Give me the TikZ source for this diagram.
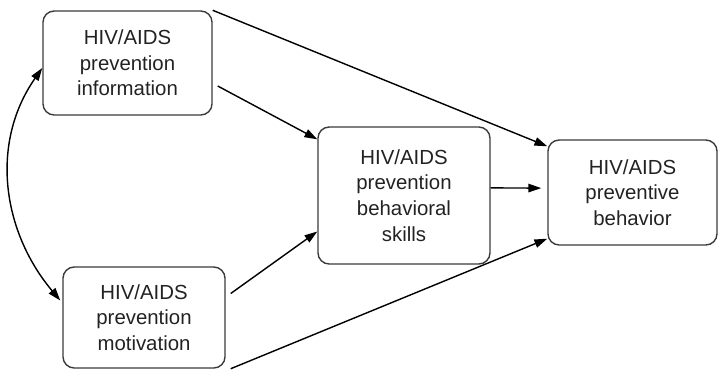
\documentclass[tikz,border=0pt]{standalone}
\usepackage{fontspec}
\setmainfont{Liberation Sans}
\usetikzlibrary{arrows.meta,positioning}
\definecolor{boxline}{HTML}{3A3A3A}
\definecolor{boxtext}{HTML}{222222}

\begin{document}
\begin{tikzpicture}[
  x=0.025cm, y=-0.025cm,
  every node/.style={draw=boxline, line width=1pt, rounded corners=8pt, align=center, inner sep=0pt, text=boxtext, font=\fontsize{14.5}{18.2}\selectfont},
  arr/.style={-{Triangle[length=3.2mm, width=2.1mm]}, line width=1pt},
  biarr/.style={{Triangle[length=3.2mm, width=2.1mm]}-{Triangle[length=3.2mm, width=2.1mm]}, line width=1pt},
]
  \useasboundingbox (0,0) rectangle (719,370);

  % Left column: information + motivation
  \node[minimum width=4.225cm, minimum height=2.6cm] (info) at (127.5,63) {HIV/AIDS\\prevention\\information};
  \node[minimum width=4.05cm, minimum height=2.525cm] (motiv) at (144,317.5) {HIV/AIDS\\prevention\\motivation};

  % Middle + right: skills + behavior
  \node[minimum width=4.3cm, minimum height=3.425cm] (skills) at (404,195.5) {HIV/AIDS\\prevention\\behavioral\\skills};
  \node[minimum width=4.225cm, minimum height=2.625cm] (behav) at (632.5,192.5) {HIV/AIDS\\preventive\\behavior};

  % Edges
  \draw[arr] (info.north east) -- ([yshift=-0.175cm]behav.north west);
  \draw[arr] ([xshift=0.125cm, yshift=-0.575cm]info.east) -- ([yshift=-0.325cm]skills.north west);
  \draw[arr] ([yshift=0.19cm]skills.east) -- ([xshift=-0.15cm, yshift=0.11cm]behav.west);
  \draw[arr] ([xshift=0.125cm, yshift=0.6cm]motiv.east) -- ([yshift=-0.9cm]skills.west);
  \draw[arr] ([xshift=0.125cm]motiv.south east) -- ([yshift=0.175cm]behav.south west);
  \draw[biarr] ([yshift=-0.125cm]info.west) to[out=235, in=130] ([xshift=-0.05cm, yshift=0.425cm]motiv.west);
\end{tikzpicture}
\end{document}
